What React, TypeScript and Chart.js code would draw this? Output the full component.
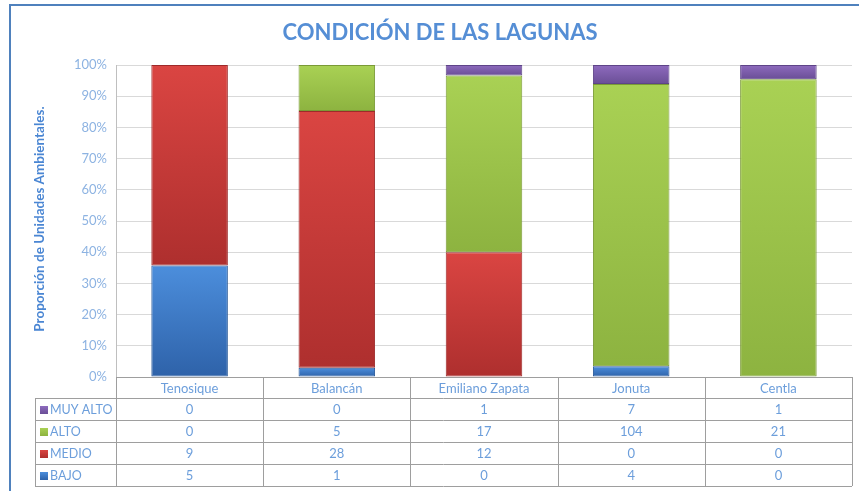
import React, { useEffect, useRef } from 'react';
import { Chart, registerables } from 'chart.js';

Chart.register(...registerables);

const categories = ['Tenosique', 'Balancán', 'Emiliano Zapata', 'Jonuta', 'Centla'];
const muyAlto = [0, 0, 1, 7, 1];
const alto = [0, 5, 17, 104, 21];
const medio = [9, 28, 12, 0, 0];
const bajo = [5, 1, 0, 4, 0];
const seriesLabels = ['BAJO', 'MEDIO', 'ALTO', 'MUY ALTO'];
const seriesCounts = [bajo, medio, alto, muyAlto];
const tableOrder = [3, 2, 1, 0];
const yTickValues = [0, 10, 20, 30, 40, 50, 60, 70, 80, 90, 100];
const titleText = 'CONDICIÓN DE LAS LAGUNAS';
const yTitleText = 'Proporción de Unidades Ambientales.';

const seriesTop = ['#4C8EDC', '#DA4542', '#A9D154', '#8E6BBE'];
const seriesBottom = ['#2E62A9', '#AE2F2E', '#8DB340', '#6A4E96'];
const seriesBorder = ['#2A5A9A', '#9E2A2A', '#7A9A36', '#5E4488'];

const FONT = 'Lato, "Open Sans", sans-serif';

const totals = categories.map((_, i) => seriesCounts.reduce((s, arr) => s + arr[i], 0));
const seriesPct = seriesCounts.map((arr) => arr.map((v, i) => (totals[i] ? (v / totals[i]) * 100 : 0)));

const decorPlugin = {
  id: 'decor',
  beforeDraw(chart: any) {
    const { ctx, width, height } = chart;
    ctx.save();
    ctx.fillStyle = '#FFFFFF';
    ctx.fillRect(0, 0, width, height);
    ctx.strokeStyle = '#4F81BD';
    ctx.lineWidth = 2;
    ctx.beginPath();
    ctx.moveTo(10, height + 5);
    ctx.lineTo(10, 5);
    ctx.lineTo(width + 5, 5);
    ctx.stroke();
    ctx.restore();
  },
  afterDraw(chart: any) {
    const { ctx, chartArea } = chart;
    const x = chart.scales.x;
    const n = categories.length;
    const catW = (chartArea.right - chartArea.left) / n;
    ctx.save();
    // title
    ctx.fillStyle = '#558ED5';
    ctx.font = `bold 22px ${FONT}`;
    ctx.textAlign = 'center';
    ctx.textBaseline = 'middle';
    ctx.fillText(titleText, 440, 33);
    // y title
    ctx.save();
    ctx.translate(40, (chartArea.top + chartArea.bottom) / 2 - 2);
    ctx.rotate(-Math.PI / 2);
    ctx.fillStyle = '#4A86D3';
    ctx.font = `bold 13.5px ${FONT}`;
    ctx.fillText(yTitleText, 0, 0);
    ctx.restore();

    // table
    const tLeft = 35;
    const L = chartArea.left;
    const R = chartArea.right;
    const rows = [chartArea.bottom, chartArea.bottom + 21, chartArea.bottom + 43, chartArea.bottom + 65, chartArea.bottom + 87, chartArea.bottom + 109];
    ctx.strokeStyle = '#9E9E9E';
    ctx.lineWidth = 1;
    ctx.beginPath();
    const px = (v: number) => Math.round(v) + 0.5;
    ctx.moveTo(L, px(rows[0]));
    ctx.lineTo(R, px(rows[0]));
    for (let r = 1; r < rows.length; r++) {
      ctx.moveTo(tLeft, px(rows[r]));
      ctx.lineTo(R, px(rows[r]));
    }
    for (let i = 0; i <= n; i++) {
      const vx = px(L + catW * i);
      ctx.moveTo(vx, rows[0]);
      ctx.lineTo(vx, rows[rows.length - 1]);
    }
    ctx.moveTo(px(tLeft), rows[1]);
    ctx.lineTo(px(tLeft), rows[rows.length - 1]);
    ctx.stroke();

    ctx.font = `13px ${FONT}`;
    ctx.fillStyle = '#6C9EDB';
    ctx.textAlign = 'center';
    categories.forEach((c, i) => {
      ctx.fillText(c, x.getPixelForValue(i), (rows[0] + rows[1]) / 2 + 1);
    });
    tableOrder.forEach((si, r) => {
      const cy = (rows[r + 1] + rows[r + 2]) / 2 + 1;
      // legend marker
      const g = ctx.createLinearGradient(0, cy - 4, 0, cy + 4);
      g.addColorStop(0, seriesTop[si]);
      g.addColorStop(1, seriesBottom[si]);
      ctx.fillStyle = g;
      ctx.fillRect(40, cy - 4, 8, 8);
      ctx.fillStyle = '#6C9EDB';
      ctx.textAlign = 'left';
      ctx.font = `12.5px ${FONT}`;
      ctx.fillText(seriesLabels[si], 50, cy);
      ctx.textAlign = 'center';
      ctx.font = `13px ${FONT}`;
      seriesCounts[si].forEach((v, i) => {
        ctx.fillText(String(v), x.getPixelForValue(i), cy);
      });
    });
    ctx.restore();
  },
};

function makeBg(si: number) {
  return (context: any) => {
    const chart = context.chart;
    if (!chart.chartArea || context.dataIndex === undefined) return seriesTop[si];
    const y = chart.scales.y;
    const i = context.dataIndex;
    let start = 0;
    for (let k = 0; k < si; k++) start += seriesPct[k][i];
    const end = start + seriesPct[si][i];
    const yTop = y.getPixelForValue(end);
    const yBot = y.getPixelForValue(start);
    if (!isFinite(yTop) || !isFinite(yBot) || yBot - yTop < 1) return seriesTop[si];
    const g = chart.ctx.createLinearGradient(0, yTop, 0, yBot);
    g.addColorStop(0, seriesTop[si]);
    g.addColorStop(1, seriesBottom[si]);
    return g;
  };
}

export default function App() {
  const ref = useRef<HTMLCanvasElement>(null);
  useEffect(() => {
    if (!ref.current) return;
    const chart = new Chart(ref.current, {
      type: 'bar',
      data: {
        labels: categories,
        datasets: seriesLabels.map((label, si) => ({
          label,
          data: seriesPct[si],
          backgroundColor: makeBg(si),
          borderColor: seriesBorder[si],
          borderWidth: 1,
          borderSkipped: false,
          barPercentage: 1,
          categoryPercentage: 0.52,
        })),
      },
      options: {
        responsive: false,
        animation: false,
        events: [],
        layout: { padding: { top: 65, left: 0, right: 7, bottom: 114 } },
        plugins: {
          legend: { display: false },
          tooltip: { enabled: false },
          title: { display: false },
        },
        scales: {
          x: {
            stacked: true,
            display: false,
          },
          y: {
            stacked: true,
            min: 0,
            max: 100,
            afterFit: (scale: any) => {
              scale.width = 116;
            },
            afterBuildTicks: (scale: any) => {
              scale.ticks = yTickValues.map((v) => ({ value: v }));
            },
            ticks: {
              color: '#8DB3E2',
              font: { family: FONT, size: 13 },
              padding: 9,
              callback: (v: any) => `${v}%`,
            },
            grid: { color: '#D9D9D9', drawTicks: false, lineWidth: 1 },
            border: { display: true, color: '#BFBFBF' },
          },
        },
      },
      plugins: [decorPlugin],
    });
    return () => chart.destroy();
  }, []);
  return (
    <div style={{ position: 'absolute', left: 0, top: 0, width: 859, height: 491 }}>
      <canvas ref={ref} width={859} height={491} style={{ display: 'block' }} />
    </div>
  );
}
